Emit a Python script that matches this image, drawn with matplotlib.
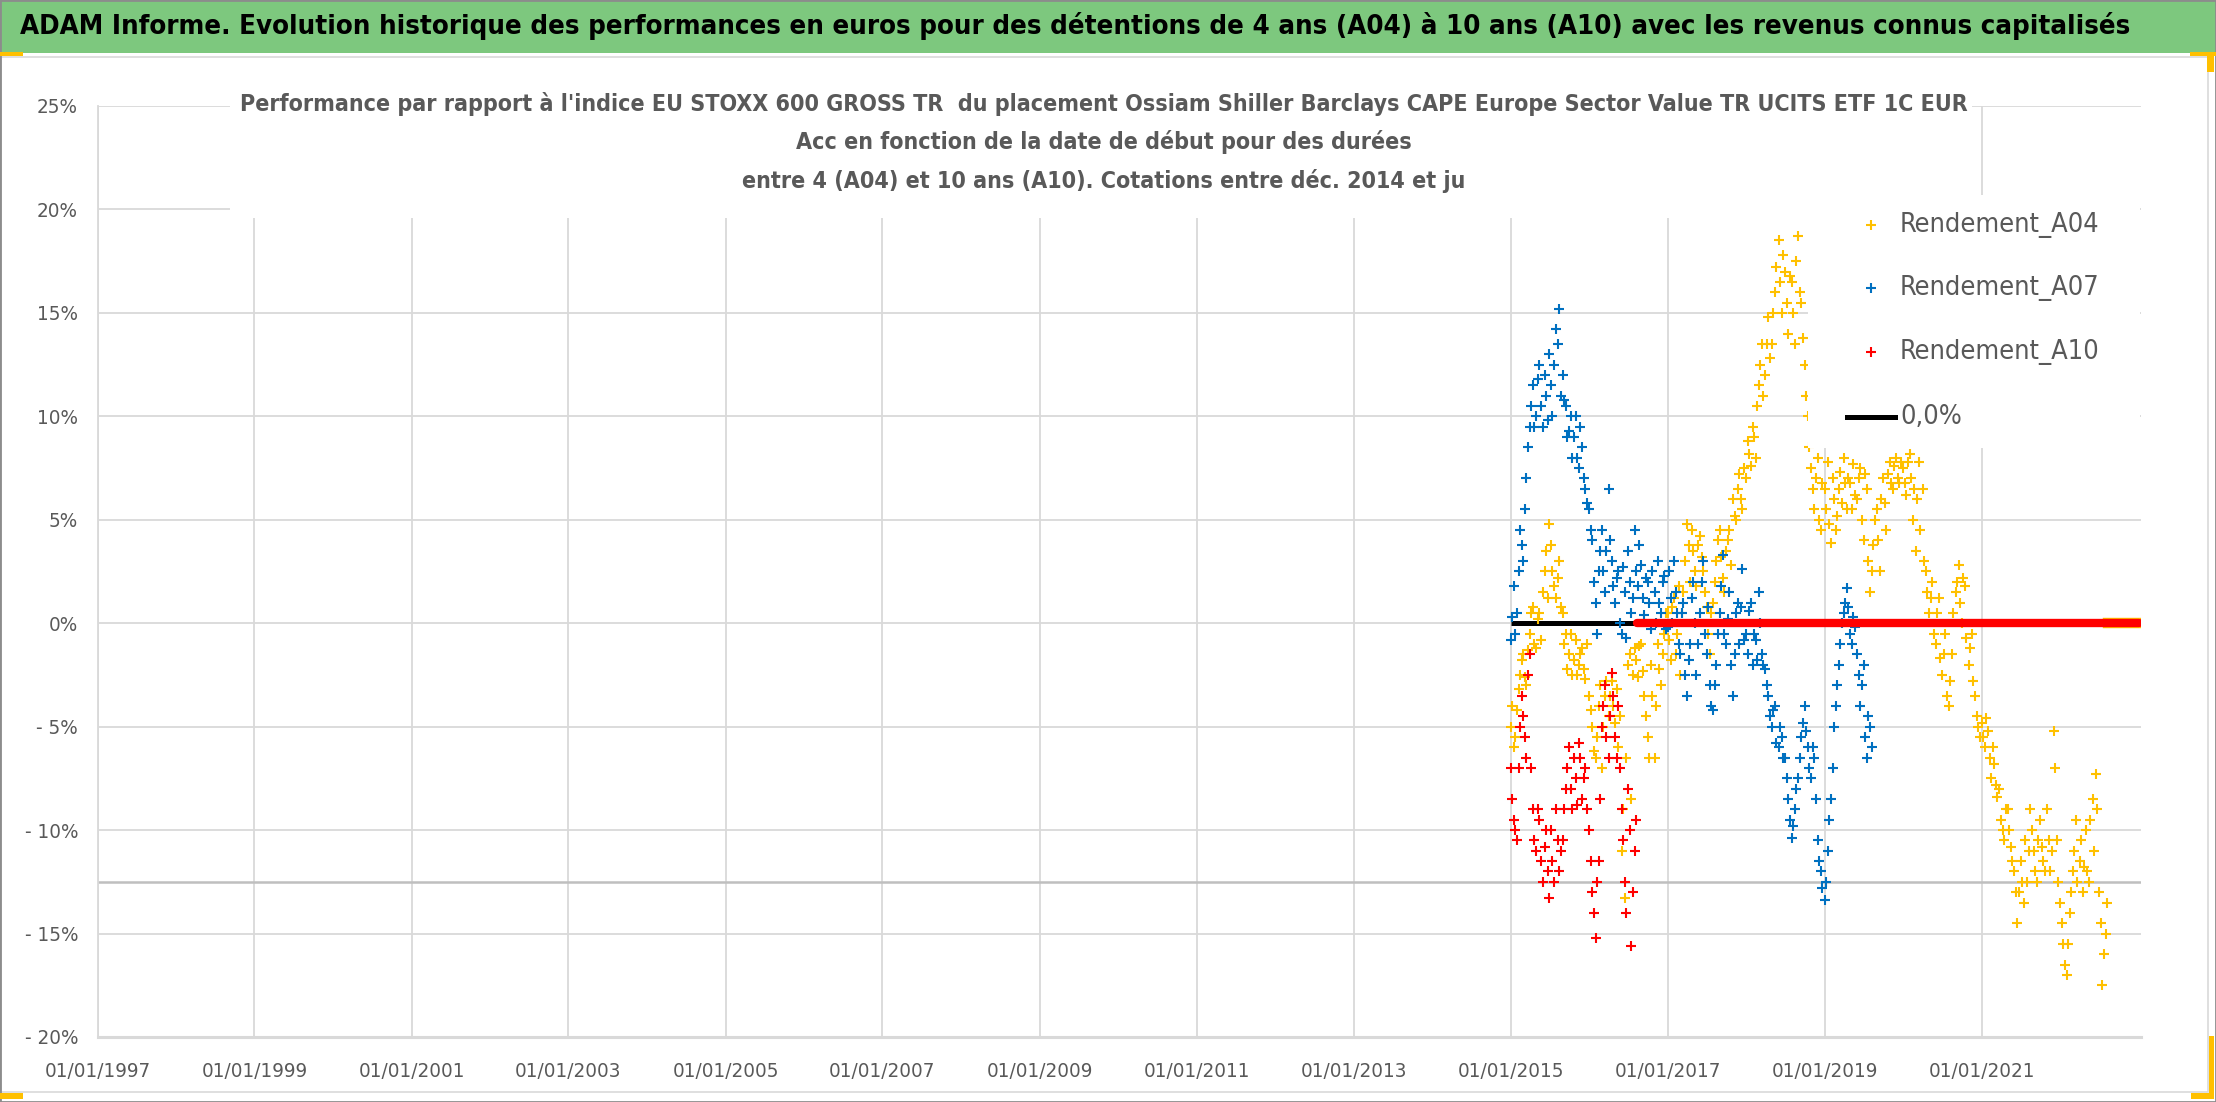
"""
Performance relative (A04 / A07 / A10) d'un ETF contre l'indice EU STOXX 600 GROSS TR.
Nuage de points '+' par date de début, valeurs relevées à la main sur le graphique.
"""

import numpy as np
import pandas as pd
import matplotlib
matplotlib.use("Agg")
import matplotlib.pyplot as plt
from matplotlib import font_manager as fm
from matplotlib.patches import Rectangle
from matplotlib.lines import Line2D

# ===== données (en %) =====
# relevé 1 : le 1er et le 15 de chaque mois ; relevé 2 : une semaine plus tard
# (le nuage de points est épais, le 2e relevé donne l'autre bord du nuage)
debut_series = "2015-01-01"

a04 = [
    -5.0, -6.0, -4.2, -2.5, -1.5, -3.0, -0.5, 0.8, -1.2, 0.5, 1.5, 3.5,        # 2015
    4.8, 2.5, 1.2, 3.0, 0.5, -0.5, -1.5, -2.5, -0.8, -2.0, -1.2, -2.7,
    -3.5, -5.0, -6.5, -4.0, -7.0, -3.5, -4.5, -2.8, -4.8, -6.0, -11.0, -13.3,  # 2016
    -2.0, -8.5, -1.2, -2.6, -1.0, -3.5, -5.5, -2.0, -6.5, -1.0, -3.0, -0.5,
    0.5, -1.8, 1.2, -0.5, -2.5, 1.5, 4.8, 2.0, 3.5, 1.8, 4.2, 2.5,             # 2017
    0.8, -1.5, 1.0, 3.0, 4.5, 2.2, 3.5, 4.5, 6.0, 5.0, 7.2, 5.5,
    7.0, 8.2, 9.5, 8.0, 11.5, 13.5, 12.0, 14.8, 13.5, 16.0, 18.5, 15.0,        # 2018
    17.0, 14.0, 16.5, 13.5, 18.7, 15.5, 12.5, 10.0, 7.5, 5.5, 8.0, 4.5,
    6.5, 7.8, 3.9, 6.0, 5.2, 7.3, 8.0, 5.5, 6.8, 7.7, 6.0, 7.5,                # 2019
    4.0, 6.5, 1.5, 3.8, 5.5, 2.5, 7.0, 4.5, 7.8, 6.5, 8.0, 6.8,
    7.5, 6.2, 8.2, 5.0, 3.5, 7.8, 6.5, 2.5, 0.5, 2.0, -1.0, 1.2,               # 2020
    -2.5, -0.5, -4.0, -1.5, 1.5, 2.8, 0.0, 1.8, -2.0, -0.5, -3.5, -5.0,
    -4.8, -6.0, -5.2, -7.5, -6.8, -8.4, -9.5, -10.5, -9.0, -10.8, -12.0, -14.5,  # 2021
    -11.5, -13.5, -12.5, -9.0, -11.0, -12.5, -9.5, -11.5, -9.0, -12.0, -5.2, -10.5,
    -13.5, -15.5, -17.0, -14.0, -12.0, -9.5, -11.5, -13.0, -10.0, -12.5, -8.5, -7.3,  # 2022
    -13.0, -17.5, -15.0,
]
a04_b = [
    -4.0, -5.5, -3.2, -1.8, -2.6, -1.3, 0.5, -1.0, 0.2, -0.8, 2.5, 1.2,        # 2015
    3.8, 1.8, 2.2, 0.8, -1.0, -2.2, -0.5, -1.8, -2.5, -1.5, -2.2, -1.0,
    -4.2, -6.2, -5.5, -3.0, -5.0, -2.8, -3.5, -4.0, -3.2, -4.5, -9.0, -6.5,    # 2016
    -1.5, -2.5, -1.8, -1.1, -2.3, -4.5, -6.5, -3.5, -4.0, -2.2, -1.5, 0.5,
    -0.8, 0.8, -1.5, 1.8, 0.5, 3.0, 3.8, 4.5, 2.5, 3.8, 3.2, 1.5,              # 2017
    -0.5, 0.5, 2.0, 4.0, 3.2, 1.5, 4.0, 2.8, 5.2, 6.5, 6.0, 7.5,
    8.8, 7.6, 9.0, 10.5, 12.5, 11.0, 13.5, 12.8, 15.0, 17.2, 16.5, 17.8,       # 2018
    15.5, 16.8, 15.0, 17.5, 16.0, 13.8, 11.0, 8.5, 6.5, 7.0, 5.0, 6.8,
    5.5, 4.8, 7.0, 4.5, 6.5, 5.8, 6.8, 7.0, 5.5, 6.2, 7.0, 5.0,                # 2019
    7.2, 3.0, 2.5, 5.0, 4.0, 6.0, 5.8, 7.2, 6.8, 7.6, 7.0, 7.8,
    6.8, 7.8, 7.0, 6.5, 6.0, 4.5, 3.0, 1.5, 1.2, -0.5, 0.5, -1.7,              # 2020
    -1.5, -3.5, -2.8, 0.5, 2.0, 1.0, 2.2, -0.7, -1.2, -2.8, -4.5, -5.5,
    -5.5, -4.6, -6.5, -6.0, -7.8, -8.0, -10.0, -9.0, -10.0, -11.5, -13.0, -13.0,  # 2021
    -12.5, -10.5, -11.0, -10.0, -12.0, -10.5, -10.8, -12.0, -10.5, -11.0, -7.0, -12.5,
    -14.5, -16.5, -15.5, -13.0, -11.0, -12.5, -10.5, -11.8, -12.0, -9.5, -11.0, -9.0,  # 2022
    -14.5, -16.0, -13.5,
]

a07 = [
    -0.8, 1.8, 0.5, 4.5, 3.0, 7.0, 9.5, 11.5, 10.0, 12.5, 9.5, 11.0,           # 2015
    13.0, 10.0, 14.2, 15.2, 12.0, 10.5, 9.3, 8.0, 10.0, 7.5, 8.5, 6.5,
    5.5, 4.0, 1.0, 2.5, 4.5, 1.5, 6.5, 3.0, 1.0, 2.5, -0.5, 1.5,               # 2016
    3.5, 0.5, 4.5, 1.8, 2.8, 0.4, 2.0, -0.3, 1.5, 3.0, 0.5, 2.3,
    -0.2, 1.2, 3.0, 0.5, -1.5, 1.0, -3.5, -1.0, 2.0, -2.5, 0.5, 3.0,           # 2017
    -1.5, -3.0, -4.2, -2.0, 0.5, 3.3, -1.0, 1.5, -3.5, 0.5, -1.0, 2.6,
    -0.5, 0.6, -2.0, -0.8, 1.5, -1.5, -2.2, -3.5, -5.0, -4.0, -6.0, -5.5,      # 2018
    -6.5, -8.5, -10.4, -9.0, -7.5, -5.5, -4.0, -6.0, -7.5, -6.5, -10.5, -12.0,
    -13.4, -11.0, -8.5, -5.0, -3.0, -1.0, 0.5, 1.7, -0.5, 0.3, -1.5, -4.0,     # 2019
    -2.0, -6.5, -5.0,
]
a07_b = [
    0.3, -0.5, 2.5, 3.8, 5.5, 8.5, 10.5, 9.5, 11.8, 10.5, 12.0, 9.8,           # 2015
    11.5, 12.5, 13.5, 11.0, 10.8, 9.0, 10.0, 9.0, 8.0, 9.5, 7.0, 5.8,
    4.5, 2.0, -0.5, 3.5, 2.5, 3.5, 4.0, 1.8, 2.2, 0.0, 2.7, -0.7,              # 2016
    2.0, 1.2, 2.5, 3.8, 1.2, 2.2, 1.0, 2.5, 0.0, 1.0, 2.0, -0.3,
    2.5, 0.0, 1.5, -1.0, 0.5, -2.5, -1.8, 1.2, 0.0, -1.0, 2.0, -0.5,           # 2017
    0.8, -4.0, -3.0, -0.5, 1.8, -0.5, 0.2, -2.0, -1.5, 1.0, 0.8, -0.8,
    -1.5, 1.0, -0.5, -1.8, 0.0, -2.0, -3.0, -4.5, -4.2, -5.8, -5.0, -6.5,      # 2018
    -7.5, -9.5, -9.8, -8.0, -6.5, -4.8, -5.2, -7.0, -6.0, -8.5, -11.5, -12.8,
    -12.5, -9.5, -7.0, -4.0, -2.0, 0.0, 1.0, 0.8, -1.0, -0.2, -2.5, -3.0,      # 2019
    -5.5, -4.5, -6.0,
]

a10 = [
    -7.0, -9.5, -10.5, -5.0, -4.5, -6.5, -1.5, -9.0, -11.0, -9.5, -12.5, -10.0,  # 2015
    -13.3, -11.5, -9.0, -12.0, -10.5, -8.0, -6.0, -9.0, -7.5, -5.8, -8.5, -7.0,
    -10.0, -13.0, -15.2, -11.5, -5.0, -3.0, -6.5, -2.4, -5.5, -4.0, -9.0, -12.5,  # 2016
    -8.0, -15.6, -11.0,
]
a10_b = [
    -8.5, -10.0, -7.0, -3.5, -5.5, -2.5, -7.0, -10.5, -9.0, -11.5, -10.8, -12.0,  # 2015
    -10.0, -12.5, -10.5, -11.0, -9.0, -7.0, -8.0, -6.5, -8.8, -6.5, -7.5, -9.0,
    -11.5, -14.0, -12.5, -8.5, -4.0, -5.5, -4.5, -3.5, -6.5, -7.0, -10.5, -14.0,  # 2016
    -10.0, -13.0, -9.5,
]

# au-delà de la fin des cotations les séries valent 0 (trait épais à 0)
a04_zero_depuis = "2022-08-10"
a10_zero_depuis = "2016-08-10"
ligne_zero_depuis = "2015-01-01"
zero_jusqua = "2023-01-03"

annees_ticks = list(range(1997, 2022, 2))
y_ticks = [25, 20, 15, 10, 5, 0, -5, -10, -15, -20]
y_labels = ["25%", "20%", "15%", "10%", "5%", "0%", "- 5%", "- 10%", "- 15%", "- 20%"]

noms = ["Rendement_A04", "Rendement_A07", "Rendement_A10", "0,0%"]

titre = ("ADAM Informe. Evolution historique des performances en euros pour des détentions "
         "de 4 ans (A04) à 10 ans (A10) avec les revenus connus capitalisés")
titre_graphe = [
    "Performance par rapport à l'indice EU STOXX 600 GROSS TR  du placement Ossiam Shiller "
    "Barclays CAPE Europe Sector Value TR UCITS ETF 1C EUR",
    "Acc en fonction de la date de début pour des durées",
    "entre 4 (A04) et 10 ans (A10). Cotations entre déc. 2014 et ju",
]

JAUNE, BLEU, ROUGE = "#FFC000", "#0070C0", "#FF0000"
GRIS_TXT = "#595959"
GRIS_GRILLE = "#D9D9D9"

# police étroite si elle existe (l'original est en Calibri, assez serré)
polices = fm.fontManager.ttflist
noms_dispo = {f.name for f in polices}
if "Liberation Sans Narrow" in noms_dispo:
    plt.rcParams["font.family"] = ["Liberation Sans Narrow", "DejaVu Sans"]
elif any(f.name == "DejaVu Sans" and f.stretch == "condensed" for f in polices):
    plt.rcParams["font.family"] = ["DejaVu Sans"]
    plt.rcParams["font.stretch"] = "condensed"
else:
    plt.rcParams["font.family"] = ["Liberation Sans", "DejaVu Sans"]

# ===== mise en page en pixels de l'image d'origine =====
W, H = 2216, 1102


def fx(px):
    return px / W


def fy(py):
    return 1 - py / H


fig = plt.figure(figsize=(W / 100, H / 100), dpi=100)
fig.patch.set_facecolor("white")
r = fig.canvas.get_renderer()


def taille_pour(texte, largeur_px, **kw):
    # taille de police qui donne la largeur voulue (en pixels)
    t = fig.text(0, 0, texte, fontsize=20, **kw)
    w = t.get_window_extent(renderer=r).width
    t.remove()
    return 20 * largeur_px / w


# bandeau vert du titre
fig.add_artist(Rectangle((0, fy(53)), 1, 53 / H, transform=fig.transFigure,
                         facecolor="#7DC87E", edgecolor="none", zorder=1))
# cadre du graphique
fig.add_artist(Rectangle((fx(1), fy(1092)), fx(2208) - fx(1), fy(57) - fy(1092),
                         transform=fig.transFigure, fill=False,
                         edgecolor=GRIS_GRILLE, lw=1.2, zorder=1))
fig.add_artist(Rectangle((0, 0), 1, 1, transform=fig.transFigure, fill=False,
                         edgecolor="#8C8C8C", lw=2, zorder=1))
# poignées de sélection (orange)
for (x0, y0, w, h) in [(0, 52, 23, 4), (2190, 52, 26, 4), (2207, 52, 7, 20),
                       (0, 1093, 23, 6), (2191, 1093, 23, 6), (2209, 1036, 5, 63)]:
    fig.add_artist(Rectangle((fx(x0), fy(y0 + h)), w / W, h / H, transform=fig.transFigure,
                             facecolor=JAUNE, edgecolor="none", zorder=2))

ax = fig.add_axes([fx(97.5), fy(1037), fx(2141) - fx(97.5), fy(106) - fy(1037)])

# ===== séries =====
decalage = pd.Timedelta(days=7)
d04 = pd.date_range(debut_series, periods=len(a04), freq="SMS")
d07 = pd.date_range(debut_series, periods=len(a07), freq="SMS")
d10 = pd.date_range(debut_series, periods=len(a10), freq="SMS")
fin = pd.Timestamp(zero_jusqua)

ax.plot([pd.Timestamp(ligne_zero_depuis), fin], [0, 0], color="black", lw=3.6,
        solid_capstyle="butt", zorder=2)
style = dict(ls="none", marker="+", ms=7, mew=1.5)
ax.plot(d04, a04, color=JAUNE, zorder=3, **style)
ax.plot(d04[:len(a04_b)] + decalage, a04_b, color=JAUNE, zorder=3, **style)
ax.plot([pd.Timestamp(a04_zero_depuis), fin], [0, 0], color=JAUNE, lw=7.5, zorder=3)
ax.plot(d07, a07, color=BLEU, zorder=4, **style)
ax.plot(d07[:len(a07_b)] + decalage, a07_b, color=BLEU, zorder=4, **style)
ax.plot(d10, a10, color=ROUGE, zorder=5, **style)
ax.plot(d10[:len(a10_b)] + decalage, a10_b, color=ROUGE, zorder=5, **style)
ax.plot([pd.Timestamp(a10_zero_depuis), fin], [0, 0], color=ROUGE, lw=6,
        solid_capstyle="round", zorder=5)

ax.axhline(-12.5, color="#BFBFBF", lw=1.8, zorder=1)

# ===== axes =====
taille_axes = taille_pour("01/01/1997", 106)
ax.set_xlim(pd.Timestamp("1997-01-01"), pd.Timestamp("2023-01-12"))
ax.set_ylim(-20, 25)
ax.set_xticks([pd.Timestamp(f"{a}-01-01") for a in annees_ticks],
              [f"01/01/{a}" for a in annees_ticks])
ax.set_yticks(y_ticks, y_labels)
ax.tick_params(axis="both", length=0, labelcolor=GRIS_TXT, labelsize=taille_axes)
ax.tick_params(axis="x", pad=18)
ax.tick_params(axis="y", pad=14)
ax.grid(True, color=GRIS_GRILLE, lw=1.3)
ax.set_axisbelow(True)
for cote in ["top", "right"]:
    ax.spines[cote].set_visible(False)
ax.spines["left"].set_color(GRIS_GRILLE)
ax.spines["left"].set_linewidth(1.3)
ax.spines["bottom"].set_color(GRIS_GRILLE)
ax.spines["bottom"].set_linewidth(2.2)

# ===== titres =====
fig.text(fx(1075.5), fy(26), titre, ha="center", va="center",
         fontsize=taille_pour(titre, 2111, fontweight="bold"),
         fontweight="bold", color="black", zorder=3)

# cadre blanc du titre du graphique (masque la grille)
fig.add_artist(Rectangle((fx(230), fy(218)), fx(1972) - fx(230), fy(86) - fy(218),
                         transform=fig.transFigure, facecolor="white",
                         edgecolor="none", zorder=1.5))
taille_tg = taille_pour(titre_graphe[0], 1730, fontweight="bold")
for ligne, ypx in zip(titre_graphe, [104, 142, 181]):
    fig.text(fx(1104), fy(ypx), ligne, ha="center", va="center",
             fontsize=taille_tg, fontweight="bold", color=GRIS_TXT, zorder=3)

# ===== légende (cadre blanc par-dessus les points) =====
taille_leg = taille_pour(noms[0], 200)
fig.add_artist(Rectangle((fx(1808), fy(448)), fx(2140) - fx(1808), fy(195) - fy(448),
                         transform=fig.transFigure, facecolor="white",
                         edgecolor="none", zorder=1.5))
for nom, col, ypx in zip(noms[:3], [JAUNE, BLEU, ROUGE], [225, 288, 352]):
    fig.add_artist(Line2D([fx(1871)], [fy(ypx)], ls="none", marker="+", ms=7, mew=1.5,
                          color=col, transform=fig.transFigure, zorder=3))
    fig.text(fx(1900), fy(ypx), nom, va="center", ha="left", fontsize=taille_leg,
             color=GRIS_TXT, zorder=3)
fig.add_artist(Line2D([fx(1847), fx(1895)], [fy(417), fy(417)], color="black", lw=3.6,
                      transform=fig.transFigure, zorder=3))
fig.text(fx(1900), fy(417), noms[3], va="center", ha="left", fontsize=taille_leg,
         color=GRIS_TXT, zorder=3)

fig.savefig("out.png", dpi=100)
